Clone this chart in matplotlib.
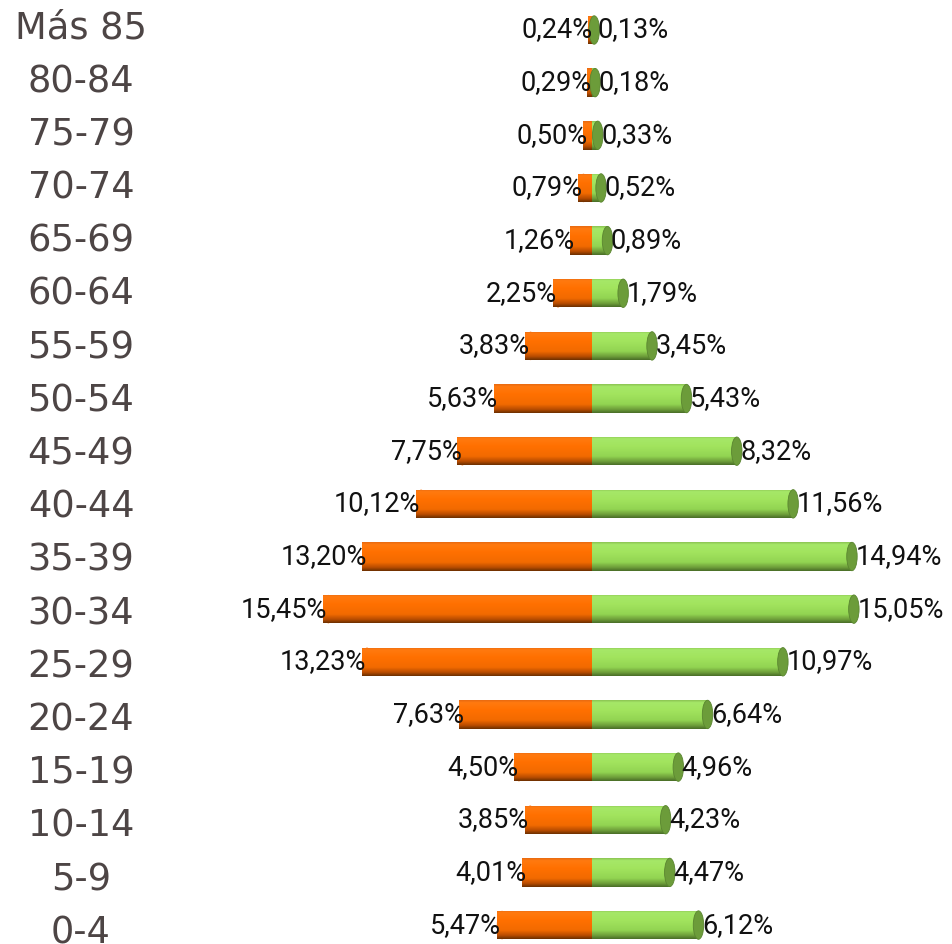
import matplotlib
matplotlib.use("Agg")
import matplotlib.pyplot as plt
import numpy as np
from matplotlib.colors import LinearSegmentedColormap
from matplotlib.patches import Ellipse

categories = ["Más 85", "80-84", "75-79", "70-74", "65-69", "60-64", "55-59", "50-54",
              "45-49", "40-44", "35-39", "30-34", "25-29", "20-24", "15-19", "10-14",
              "5-9", "0-4"]
left_vals = [0.24, 0.29, 0.50, 0.79, 1.26, 2.25, 3.83, 5.63, 7.75, 10.12, 13.20, 15.45,
             13.23, 7.63, 4.50, 3.85, 4.01, 5.47]
right_vals = [0.13, 0.18, 0.33, 0.52, 0.89, 1.79, 3.45, 5.43, 8.32, 11.56, 14.94, 15.05,
              10.97, 6.64, 4.96, 4.23, 4.47, 6.12]
left_labels = ["0,24%", "0,29%", "0,50%", "0,79%", "1,26%", "2,25%", "3,83%", "5,63%",
               "7,75%", "10,12%", "13,20%", "15,45%", "13,23%", "7,63%", "4,50%", "3,85%",
               "4,01%", "5,47%"]
right_labels = ["0,13%", "0,18%", "0,33%", "0,52%", "0,89%", "1,79%", "3,45%", "5,43%",
                "8,32%", "11,56%", "14,94%", "15,05%", "10,97%", "6,64%", "4,96%", "4,23%",
                "4,47%", "6,12%"]

W, H = 952, 944
fig = plt.figure(figsize=(W / 100, H / 100), dpi=100)
ax = fig.add_axes([0, 0, 1, 1])
ax.set_axis_off()

center_px = 592.0
scale = 17.4  # px per percent
row0_px = 30.0
row_step = 52.65
xmin = -center_px / scale
xmax = (W - center_px) / scale
ytop = -row0_px / row_step
ybot = (H - row0_px) / row_step

bar_h = 0.54
y = np.arange(len(categories))

orange_cmap = LinearSegmentedColormap.from_list(
    "or", [(0.0, "#e86a10"), (0.08, "#ff7a10"), (0.35, "#ff7000"), (0.7, "#f26a00"),
           (0.88, "#b84c00"), (1.0, "#6e3000")])
green_cmap = LinearSegmentedColormap.from_list(
    "gr", [(0.0, "#8cc454"), (0.08, "#a6e868"), (0.35, "#a2e45e"), (0.7, "#92d452"),
           (0.88, "#6e9e3a"), (1.0, "#4a6e28")])
grad = np.linspace(0, 1, 64).reshape(-1, 1)

lbars = ax.barh(y, [-v for v in left_vals], height=bar_h, color="#ff7000", linewidth=0)
rbars = ax.barh(y, right_vals, height=bar_h, color="#9be35a", linewidth=0)

for bars, cmap in ((lbars, orange_cmap), (rbars, green_cmap)):
    for b in bars:
        x0, yb = b.get_x(), b.get_y()
        w, h = b.get_width(), b.get_height()
        xa, xb = min(x0, x0 + w), max(x0, x0 + w)
        im = ax.imshow(grad, cmap=cmap, aspect="auto", origin="upper",
                       extent=(xa, xb, yb + h, yb), interpolation="bilinear", zorder=2)
        im.set_clip_path(b)

cap_w = 0.6
for yi, v in zip(y, right_vals):
    ax.add_patch(Ellipse((v, yi), width=cap_w, height=bar_h, facecolor="#6c9c3a",
                         edgecolor="#5a8530", linewidth=0.6, zorder=3))
for yi, v in zip(y, left_vals):
    ax.add_patch(Ellipse((-v + cap_w / 2, yi), width=cap_w, height=bar_h,
                         facecolor="#ff7000", linewidth=0, zorder=1))

val_font = dict(family=["Roboto", "DejaVu Sans"], fontsize=19.5, color="#111111")
for yi, v, s in zip(y, left_vals, left_labels):
    ax.text(-v + 0.25, yi, s, ha="right", va="center", zorder=5, **val_font)
for yi, v, s in zip(y, right_vals, right_labels):
    ax.text(v + 0.2, yi, s, ha="left", va="center", zorder=5, **val_font)

label_x = (81 - center_px) / scale
for yi, c in zip(y, categories):
    ax.text(label_x, yi - 0.03 + yi * 0.0105, c, ha="center", va="center",
            fontsize=26.5, color="#4d4545", family="DejaVu Sans")

ax.set_xlim(xmin, xmax)
ax.set_ylim(ybot, ytop)
ax.set_autoscale_on(False)

fig.savefig("out.png", dpi=100)
